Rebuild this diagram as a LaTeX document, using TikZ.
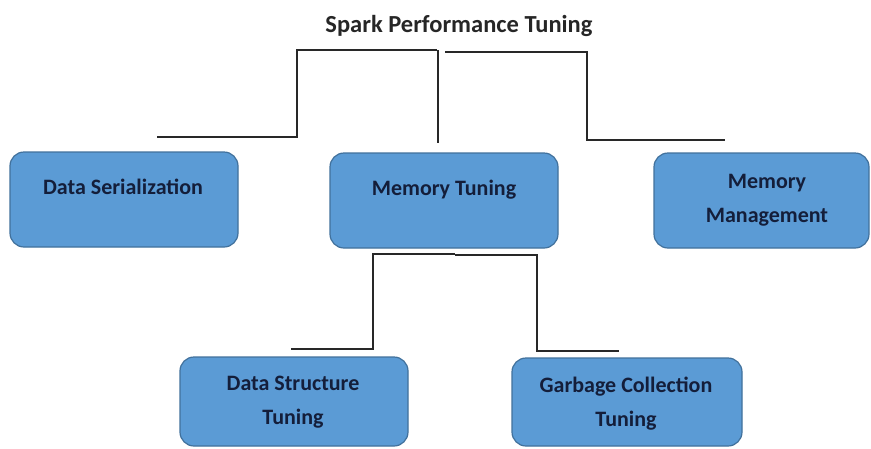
\documentclass[tikz,border=0pt]{standalone}
\usepackage{fontspec}
\setmainfont{Carlito}
\definecolor{boxfill}{RGB}{91,155,213}
\definecolor{boxline}{RGB}{65,113,156}
\definecolor{boxtext}{RGB}{20,30,58}
\definecolor{linecol}{RGB}{40,40,40}
\begin{document}
\begin{tikzpicture}[x=1pt,y=-1pt,
  box/.style={draw=boxline,line width=1.2pt,fill=boxfill,rounded corners=14pt},
  lbl/.style={text=boxtext,font=\fontsize{22}{34}\selectfont\bfseries,align=center,inner sep=0pt,anchor=base},
  conn/.style={draw=linecol,line width=2.4pt}]
\useasboundingbox (0,0) rectangle (871,448);
\fill[white] (0,0) rectangle (871,448);
\node[font=\fontsize{24.5}{28}\selectfont\bfseries,text=black!85,inner sep=0pt,anchor=base] (title) at (459,32) {Spark Performance Tuning};
% boxes
\draw[box] (10,152) rectangle (238,247);
\draw[box] (330,153) rectangle (558,248);
\draw[box] (654,153) rectangle (869,248);
\draw[box] (180,357) rectangle (408,446);
\draw[box] (512,358) rectangle (742,446);
\node[lbl] (dsl) at (123,194) {Data Serialization};
\node[lbl] (mtl) at (444,195) {Memory Tuning};
\node[lbl] (mml) at (767,222) {Memory\\Management};
\node[lbl] (dstl) at (293,424) {Data Structure\\Tuning};
\node[lbl] (gctl) at (626,426) {Garbage Collection\\Tuning};
% connector points
\coordinate (a1) at (157,137); \coordinate (a2) at (297,137);
\coordinate (a3) at (297,50); \coordinate (a4) at (437,50);
\coordinate (m1) at (438,50); \coordinate (m2) at (438,143);
\coordinate (b1) at (445,52); \coordinate (b2) at (587,52);
\coordinate (b3) at (587,140); \coordinate (b4) at (725,140);
\coordinate (c1) at (291,349); \coordinate (c2) at (373,349);
\coordinate (c3) at (373,254); \coordinate (c4) at (455,254);
\coordinate (d1) at (455,255); \coordinate (d2) at (537,255);
\coordinate (d3) at (537,351); \coordinate (d4) at (619,351);
\draw[conn] (a1) -- (a2) -- (a3) -- (a4);
\draw[conn] (m1) -- (m2);
\draw[conn] (b1) -- (b2) -- (b3) -- (b4);
\draw[conn] (c1) -- (c2) -- (c3) -- (c4);
\draw[conn] (d1) -- (d2) -- (d3) -- (d4);
\end{tikzpicture}
\end{document}
